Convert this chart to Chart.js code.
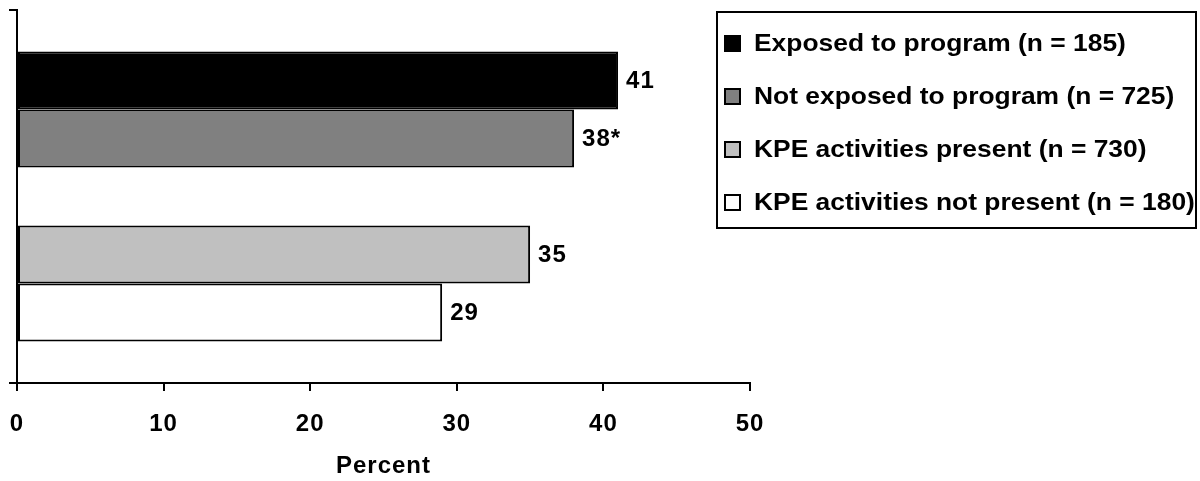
<!DOCTYPE html>
<html>
<head>
<meta charset="utf-8">
<script src="https://cdn.jsdelivr.net/npm/chart.js@4/dist/chart.umd.min.js"></script>
<style>
  html, body { margin: 0; padding: 0; background: #fff; }
  #wrap { position: relative; width: 1200px; height: 481px; }
  #legend {
    position: absolute; left: 716px; top: 11px; width: 477px; height: 214px;
    border: 2px solid #000; font-family: "Liberation Sans", Arial, sans-serif;
    font-weight: bold; font-size: 24px; color: #000;
  }
  .item { position: absolute; left: 6px; height: 28px; line-height: 28px; white-space: nowrap; }
  .box { display: inline-block; width: 13px; height: 13px; border: 2px solid #000; vertical-align: middle; margin-right: 13px; margin-top: -3px; }
  .txt { display: inline-block; transform: scaleX(1.1); transform-origin: left center; }
</style>
</head>
<body>
<div id="wrap">
  <canvas id="chart" width="1200" height="481"></canvas>
  <div id="legend"></div>
</div>
<script>
// categories and values
const groupLabel = ['Group'];
const seriesNames = [
  'Exposed to program (n = 185)',
  'Not exposed to program (n = 725)',
  'KPE activities present (n = 730)',
  'KPE activities not present (n = 180)'
];
const exposed = [41];
const notExposed = [38];
const kpePresent = [35];
const kpeNotPresent = [29];
const valueLabels = ['41', '38*', '35', '29'];
const xTicks = [0, 10, 20, 30, 40, 50];

const colors = ['#000000', '#808080', '#c0c0c0', '#ffffff'];
const font = '"Liberation Sans", Arial, sans-serif';

const seriesValues = [exposed, notExposed, kpePresent, kpeNotPresent];

// build datasets, with an empty spacer between the two pairs
const datasets = [];
seriesValues.forEach((vals, i) => {
  if (i === 2) {
    datasets.push({ label: '', data: [null], spacer: true, backgroundColor: 'transparent', borderWidth: 0 });
  }
  datasets.push({
    label: seriesNames[i],
    data: vals,
    valueLabel: valueLabels[i],
    backgroundColor: colors[i],
    borderColor: '#000',
    borderWidth: 2,
    borderSkipped: false
  });
});

// the original text is a little wider than Arial, spread it a bit
const wideText = {
  id: 'wideText',
  beforeDraw(chart) { chart.ctx.letterSpacing = '1px'; }
};

const valueLabelPlugin = {
  id: 'valueLabels',
  afterDatasetsDraw(chart) {
    const ctx = chart.ctx;
    ctx.save();
    ctx.font = 'bold 24px ' + font;
    ctx.fillStyle = '#000';
    ctx.textBaseline = 'middle';
    ctx.textAlign = 'left';
    chart.data.datasets.forEach((ds, i) => {
      if (ds.spacer) return;
      const bar = chart.getDatasetMeta(i).data[0];
      ctx.fillText(ds.valueLabel, bar.x + 8, bar.y + 1);
    });
    ctx.restore();
  }
};

const chart = new Chart(document.getElementById('chart'), {
  type: 'bar',
  data: { labels: groupLabel, datasets },
  options: {
    indexAxis: 'y',
    responsive: false,
    animation: false,
    layout: { padding: { top: 10, right: 450, left: 0, bottom: 0 } },
    categoryPercentage: 0.7775,
    barPercentage: 1,
    plugins: {
      legend: { display: false },
      tooltip: { enabled: false }
    },
    scales: {
      x: {
        min: 0,
        max: 50,
        afterBuildTicks: (scale) => { scale.ticks = xTicks.map(v => ({ value: v })); },
        afterFit: (scale) => {
          scale.height = 98;
          scale.paddingLeft = 0;
          scale.paddingRight = 0;
        },
        grid: { drawOnChartArea: false, drawTicks: true, tickLength: 8, color: '#000', lineWidth: 2 },
        border: { display: true, color: '#000', width: 2 },
        ticks: { color: '#000', font: { family: font, size: 24, weight: 'bold' }, padding: 19 },
        title: { display: true, text: 'Percent', color: '#000', font: { family: font, size: 24, weight: 'bold' }, padding: { top: 4, bottom: 0 } }
      },
      y: {
        afterFit: (scale) => { scale.width = 17; },
        grid: { drawOnChartArea: false, drawTicks: true, tickLength: 8, color: '#000', lineWidth: 2 },
        border: { display: true, color: '#000', width: 2 },
        ticks: { display: false }
      }
    }
  },
  plugins: [wideText, valueLabelPlugin]
});

// legend as html text
const legend = document.getElementById('legend');
const rowTops = [16, 69, 122, 175];
seriesNames.forEach((name, i) => {
  const item = document.createElement('div');
  item.className = 'item';
  item.style.top = rowTops[i] + 'px';
  item.innerHTML = '<span class="box" style="background:' + colors[i] + '"></span><span class="txt">' + name + '</span>';
  legend.appendChild(item);
});
</script>
</body>
</html>
